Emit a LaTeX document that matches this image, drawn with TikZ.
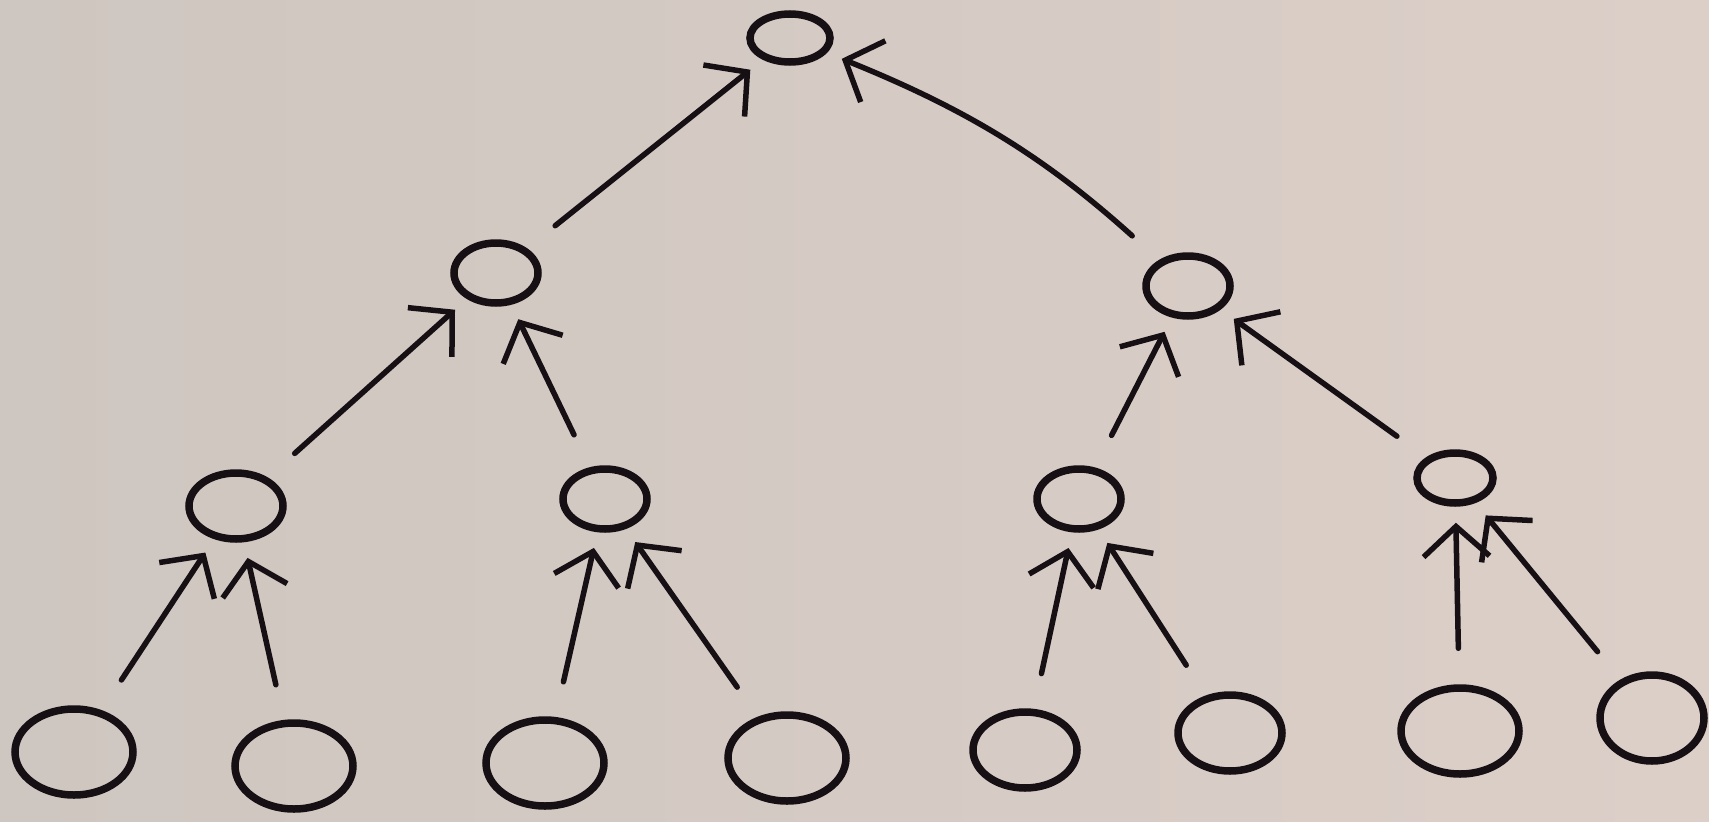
\documentclass[tikz,border=0pt]{standalone}
\usepackage{tikz}
\usetikzlibrary{arrows.meta,shapes.geometric}

\definecolor{napkinL}{RGB}{206,198,192}
\definecolor{napkinM}{RGB}{224,194,194}
\definecolor{napkinR}{RGB}{220,207,200}
\definecolor{ink}{RGB}{22,16,20}

\begin{document}
\begin{tikzpicture}[x=1pt, y=-1pt,
  vert/.style={draw=ink, ellipse, line width=7.5pt, inner sep=0pt},
  leafnode/.style={vert, minimum width=118pt, minimum height=86pt},
  midnode/.style={vert, minimum width=84pt, minimum height=60pt},
  rootnode/.style={vert, minimum width=80pt, minimum height=48pt},
  >={Straight Barb[length=30pt, width=66pt]},
  every edge/.style={draw=ink, ->, line width=5.5pt, line cap=round,
    shorten <=36pt, shorten >=16pt}]
  % napkin
  \useasboundingbox (0,0) rectangle (1709,822);
  \shade[left color=napkinL, middle color=napkinM, right color=napkinR]
    (0,0) rectangle (1709,822);
  % vertices
  \node[rootnode] (r) at (790,38) {};
  \node[midnode] (a) at (496,273) {};
  \node[midnode] (b) at (1188,286) {};
  \node[midnode, minimum width=94pt, minimum height=66pt] (aa) at (236,506) {};
  \node[midnode] (ab) at (605,499) {};
  \node[midnode] (ba) at (1079,499) {};
  \node[midnode, minimum width=76pt, minimum height=50pt] (bb) at (1455,478) {};
  \node[leafnode] (aaa) at (74,752) {};
  \node[leafnode] (aab) at (294,766) {};
  \node[leafnode] (aba) at (545,763) {};
  \node[leafnode] (abb) at (787,758) {};
  \node[leafnode, minimum width=104pt, minimum height=76pt] (baa) at (1025,750) {};
  \node[leafnode, minimum width=104pt, minimum height=76pt] (bab) at (1230,733) {};
  \node[leafnode] (bba) at (1460,731) {};
  \node[leafnode, minimum width=104pt] (bbb) at (1652,718) {};
  % child -> parent
  \draw (a) edge (r);
  \draw (b) edge[bend right=10] (r);
  \draw (aa) edge (a);
  \draw (ab) edge (a);
  \draw (ba) edge (b);
  \draw (bb) edge (b);
  \draw (aaa) edge (aa);
  \draw (aab) edge (aa);
  \draw (aba) edge (ab);
  \draw (abb) edge (ab);
  \draw (baa) edge (ba);
  \draw (bab) edge (ba);
  \draw (bba) edge (bb);
  \draw (bbb) edge (bb);
\end{tikzpicture}
\end{document}
